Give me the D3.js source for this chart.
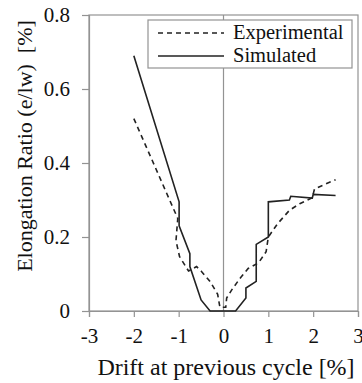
<!DOCTYPE html>
<html>
<head>
<meta charset="utf-8">
<script src="https://cdn.jsdelivr.net/npm/d3@7"></script>
<style>
  body { margin: 0; background: #fff; }
</style>
</head>
<body>
<div id="graph"></div>
<script>
const expX = [-2, -1.02, -1.06, -0.98, -0.78, -0.6, -0.5, -0.3, -0.13, -0.08, 0.05, 0.07, 0.2, 0.38, 0.55, 0.78, 0.95, 1.0, 1.2, 1.47, 1.7, 1.98, 2.03, 2.5];
const expY = [0.52, 0.25, 0.19, 0.147, 0.108, 0.12, 0.108, 0.08, 0.045, 0.01, 0.01, 0.035, 0.06, 0.09, 0.115, 0.13, 0.16, 0.2, 0.235, 0.272, 0.29, 0.306, 0.33, 0.355];
const simX = [-2, -0.99, -0.99, -0.75, -0.75, -0.5, -0.3, 0.27, 0.5, 0.5, 0.73, 0.73, 1.0, 1.0, 1.47, 1.5, 1.98, 2.0, 2.5];
const simY = [0.69, 0.295, 0.23, 0.155, 0.12, 0.03, 0.0, 0.0, 0.035, 0.062, 0.08, 0.18, 0.2, 0.295, 0.3, 0.31, 0.305, 0.315, 0.312];
const xTicks = [-3, -2, -1, 0, 1, 2, 3];
const yTicks = [0, 0.2, 0.4, 0.6, 0.8];
const seriesNames = ["Experimental", "Simulated"];

const w = 362, h = 383;
const font = "'Liberation Serif'";
const xScale = d3.scaleLinear().domain([-3, 3]).range([89, 358]);
const yScale = d3.scaleLinear().domain([0, 0.8]).range([311, 15]);
const grey = "#939393";

const svg = d3.select("#graph").append("svg").attr("width", w).attr("height", h);

// frame
svg.append("rect")
   .attr("x", xScale(-3)).attr("y", yScale(0.8))
   .attr("width", xScale(3) - xScale(-3)).attr("height", yScale(0) - yScale(0.8))
   .attr("fill", "none").attr("stroke", grey).attr("stroke-width", 1.2);

svg.append("line")
   .attr("x1", xScale(0)).attr("x2", xScale(0))
   .attr("y1", yScale(0.8)).attr("y2", yScale(0))
   .attr("stroke", grey).attr("stroke-width", 1.2);

const xAxis = d3.axisBottom(xScale).tickValues(xTicks).tickSize(6).tickPadding(11)
                .tickFormat(d3.format("d"));
const yAxis = d3.axisLeft(yScale).tickValues(yTicks).tickSize(7).tickPadding(12)
                .tickFormat((d) => d === 0 ? "0" : d3.format(".1f")(d));

const gx = svg.append("g").attr("id", "x-axis")
   .attr("transform", "translate(0," + yScale(0) + ")").call(xAxis);
const gy = svg.append("g").attr("id", "y-axis")
   .attr("transform", "translate(" + xScale(-3) + ",0)").call(yAxis);

[gx, gy].forEach((g) => {
  g.attr("font-family", null).attr("font-size", null);
  g.selectAll("path, line").attr("stroke", grey).attr("stroke-width", 1.2);
  g.selectAll("text").style("font-family", font).style("font-size", "21px").attr("fill", "#111");
});
gx.selectAll("text").text((d) => d < 0 ? "-" + Math.abs(d) : d);

// axis titles
svg.append("text")
   .attr("x", 226).attr("y", 375)
   .attr("text-anchor", "middle")
   .style("font-family", font).style("font-size", "24px").attr("fill", "#111")
   .text("Drift at previous cycle [%]");

svg.append("text")
   .attr("transform", "translate(32,146) rotate(-90)")
   .attr("text-anchor", "middle")
   .style("font-family", font).style("font-size", "22px").attr("fill", "#111")
   .text("Elongation Ratio (e/lw)\u00a0\u00a0[%]");

// series
const line = d3.line().x((d) => xScale(d[0])).y((d) => yScale(d[1]));
const expData = expX.map((x, i) => [x, expY[i]]);
const simData = simX.map((x, i) => [x, simY[i]]);

svg.append("path").datum(expData).attr("d", line)
   .attr("fill", "none").attr("stroke", "#222").attr("stroke-width", 1.6)
   .attr("stroke-dasharray", "5,4");
svg.append("path").datum(simData).attr("d", line)
   .attr("fill", "none").attr("stroke", "#222").attr("stroke-width", 1.6);

// legend
const legend = svg.append("g");
legend.append("rect")
   .attr("x", 148).attr("y", 20).attr("width", 204).attr("height", 48)
   .attr("fill", "#fff").attr("stroke", grey).attr("stroke-width", 1.2);
seriesNames.forEach((name, i) => {
  const yy = 33 + i * 23;
  legend.append("line")
     .attr("x1", 158).attr("x2", 224).attr("y1", yy).attr("y2", yy)
     .attr("stroke", "#222").attr("stroke-width", 1.6)
     .attr("stroke-dasharray", i === 0 ? "5,4" : null);
  legend.append("text")
     .attr("x", 233).attr("y", yy + 6)
     .style("font-family", font).style("font-size", "20.5px").attr("fill", "#111")
     .text(name);
});
</script>
</body>
</html>
